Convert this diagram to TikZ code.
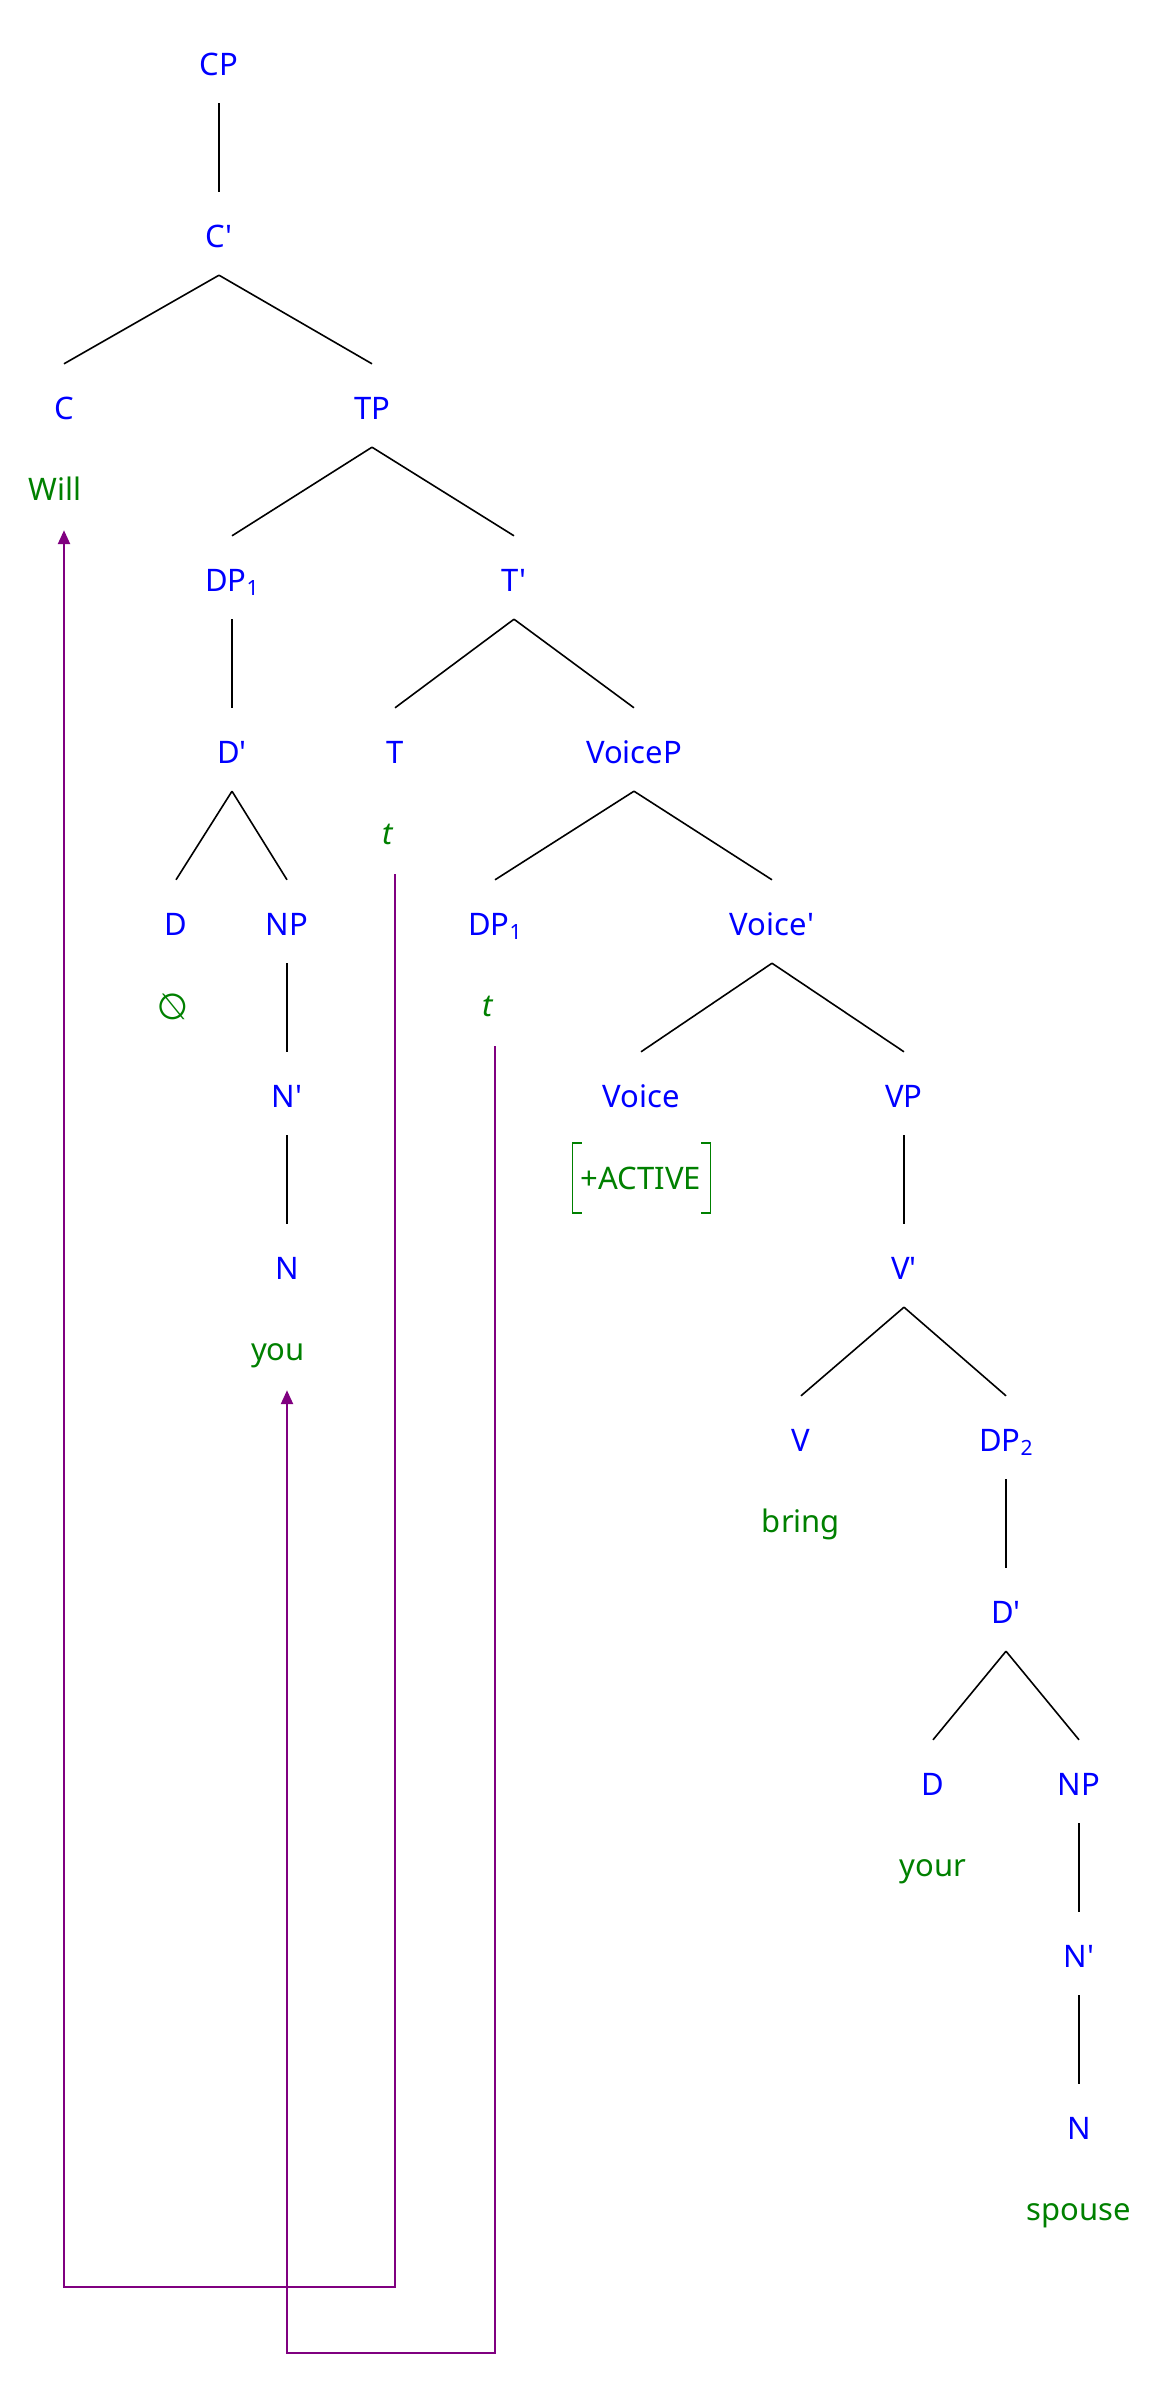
\documentclass[tikz,border=0pt]{standalone}
\usepackage{fontspec}
\usepackage{graphicx}
\setmainfont{Noto Sans}
\newfontfamily\primefont{Noto Sans}
\newfontfamily\symfont{DejaVu Sans}
\usetikzlibrary{arrows.meta}
\definecolor{catblue}{RGB}{0,0,255}
\definecolor{lexgreen}{RGB}{0,128,0}
\definecolor{movepurple}{RGB}{128,0,128}
\newcommand{\subnum}[1]{\raisebox{-4pt}{\fontsize{21}{21}\selectfont #1}}
\newcommand{\xbarmark}{{\primefont '}}
\begin{document}
\begin{tikzpicture}[x=1pt,y=-1pt,
  cat/.style={text=catblue, font=\fontsize{31}{37}\selectfont, inner sep=0pt, text height=55pt, text depth=28pt, anchor=base},
  lex/.style={text=lexgreen, font=\fontsize{31}{37}\selectfont, inner sep=0pt, text height=30pt, text depth=30pt, anchor=base},
  treeline/.style={black, line width=1.6pt},
  movearrow/.style={movepurple, line width=2.4pt, -{Triangle[width=12pt,length=14pt]}}
]
\useasboundingbox (0,0) rectangle (1162,2386);
% levels: L_k = 64 + 172k ; category base = L+11 ; lexical base = L+92
\node[cat] (cp)     at (219,75)   {CP};
\node[cat] (cb)     at (219,247)  {C\xbarmark};
\node[cat] (c)      at (64,419)   {C};
\node[cat] (tp)     at (372,419)  {TP};
\node[cat] (dpa)    at (232,591)  {DP\subnum{1}};
\node[cat] (tb)     at (514,591)  {T\xbarmark};
\node[cat] (dbara)  at (232,763)  {D\xbarmark};
\node[cat] (t)      at (395,763)  {T};
\node[cat] (voicep) at (634,763)  {VoiceP};
\node[cat] (da)     at (176,935)  {D};
\node[cat] (npa)    at (287,935)  {NP};
\node[cat] (dpb)    at (495,935)  {DP\subnum{1}};
\node[cat] (voiceb) at (772,935)  {Voice\xbarmark};
\node[cat] (nba)    at (287,1107) {N\xbarmark};
\node[cat] (voice)  at (641,1107) {Voice};
\node[cat] (vp)     at (904,1107) {VP};
\node[cat] (na)     at (287,1279) {N};
\node[cat] (vb)     at (904,1279) {V\xbarmark};
\node[cat] (v)      at (801,1451) {V};
\node[cat] (dp2)    at (1006,1451) {DP\subnum{2}};
\node[cat] (dbarb)  at (1006,1623) {D\xbarmark};
\node[cat] (db)     at (933,1795) {D};
\node[cat] (npb)    at (1079,1795) {NP};
\node[cat] (nbb)    at (1079,1967) {N\xbarmark};
\node[cat] (nb)     at (1079,2139) {N};
% lexical items
\node[lex] (will)   at (55,500)   {Will};
\node[lex] (tt)     at (388,844)  {\itshape t};
\node[lex] (null)   at (173,1019) {\reflectbox{\symfont\fontsize{36}{38}\selectfont ∅}};
\node[lex] (tdp)    at (488,1016) {\itshape t};
\node[lex] (act)    at (641,1189) {+ACTIVE};
\node[lex] (you)    at (278,1360) {you};
\node[lex] (bring)  at (801,1532) {bring};
\node[lex] (your)   at (933,1876) {your};
\node[lex] (spouse) at (1079,2220) {spouse};
% feature brackets
\draw[lexgreen, line width=1.3pt] (act.base west) ++(1,-46) -- ++(-9,0) -- ++(0,70) -- ++(9,0);
\draw[lexgreen, line width=1.3pt] (act.base east) ++(0,-46) -- ++(9,0) -- ++(0,70) -- ++(-9,0);
% tree
\draw[treeline] (cp.south) -- (cb.north);
\draw[treeline] (cb.south) -- (c.north);
\draw[treeline] (cb.south) -- (tp.north);
\draw[treeline] (tp.south) -- (dpa.north);
\draw[treeline] (tp.south) -- (tb.north);
\draw[treeline] (dpa.south) -- (dbara.north);
\draw[treeline] (tb.south) -- (t.north);
\draw[treeline] (tb.south) -- (voicep.north);
\draw[treeline] (dbara.south) -- (da.north);
\draw[treeline] (dbara.south) -- (npa.north);
\draw[treeline] (voicep.south) -- (dpb.north);
\draw[treeline] (voicep.south) -- (voiceb.north);
\draw[treeline] (npa.south) -- (nba.north);
\draw[treeline] (voiceb.south) -- (voice.north);
\draw[treeline] (voiceb.south) -- (vp.north);
\draw[treeline] (nba.south) -- (na.north);
\draw[treeline] (vp.south) -- (vb.north);
\draw[treeline] (vb.south) -- (v.north);
\draw[treeline] (vb.south) -- (dp2.north);
\draw[treeline] (dp2.south) -- (dbarb.north);
\draw[treeline] (dbarb.south) -- (db.north);
\draw[treeline] (dbarb.south) -- (npb.north);
\draw[treeline] (npb.south) -- (nbb.north);
\draw[treeline] (nbb.south) -- (nb.north);
% movement
\coordinate (bota) at (0,2287);
\coordinate (botb) at (0,2353);
\draw[movearrow] (t |- tt.south) -- (t |- bota) -- (c |- bota) -- (c |- will.south);
\draw[movearrow] (dpb |- tdp.south) -- (dpb |- botb) -- (na |- botb) -- (na |- you.south);
\end{tikzpicture}
\end{document}
